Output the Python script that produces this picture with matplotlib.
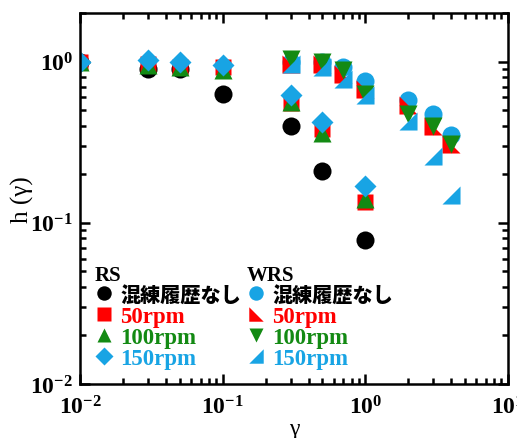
import numpy as np
import matplotlib
matplotlib.use('Agg')
import matplotlib.pyplot as plt
from matplotlib.ticker import LogLocator, FixedLocator, FixedFormatter

plt.rcParams['font.family'] = ['Liberation Serif', 'Noto Sans CJK JP']
plt.rcParams['font.weight'] = 'bold'
plt.rcParams['mathtext.fontset'] = 'custom'
plt.rcParams['mathtext.rm'] = 'Liberation Serif:bold'
plt.rcParams['mathtext.default'] = 'rm'

# データ (RS)
x_rs = [0.01, 0.03, 0.05, 0.1, 0.3, 0.5, 1.0]
rs_none = [1.0, 0.90, 0.90, 0.63, 0.40, 0.21, 0.078]
rs_50 = [1.0, 0.97, 0.92, 0.93, 0.55, 0.38, 0.135]
rs_100 = [1.0, 0.95, 0.92, 0.88, 0.56, 0.36, 0.14]
rs_150 = [1.0, 1.02, 1.0, 0.95, 0.62, 0.42, 0.17]

# データ (WRS)
x_wrs = [0.3, 0.5, 0.7, 1.0, 2.0, 3.0, 4.0]
wrs_none = [1.0, 1.0, 0.92, 0.76, 0.58, 0.47, 0.35]
wrs_50 = [0.97, 0.96, 0.84, 0.68, 0.54, 0.40, 0.31]
wrs_100 = [1.03, 0.99, 0.89, 0.63, 0.47, 0.40, 0.31]
wrs_150 = [0.97, 0.93, 0.78, 0.62, 0.43, 0.26, 0.148]

labels = ['混練履歴なし', '50rpm', '100rpm', '150rpm']
text_colors = ['black', '#ff0000', '#138a13', '#18a4e4']
rs_colors = ['black', '#ff0000', '#138a13', '#18a4e4']
wrs_colors = ['#18a4e4', '#ff0000', '#138a13', '#18a4e4']

tri_50 = [(-1, 1), (-1, -1), (1, -1), (-1, 1)]
tri_150 = [(-1, -1), (1, -1), (1, 1), (-1, -1)]

fig = plt.figure(figsize=(5.17, 4.39), dpi=100)
ax = fig.add_axes([80/517, 1-385/439, 428/517, 371/439])

h_rs = []
for y, m, ms, c in zip([rs_none, rs_50, rs_100, rs_150], ['o', 's', '^', 'D'],
                       [13, 12, 13, 11], rs_colors):
    l, = ax.plot(x_rs, y, ls='none', marker=m, ms=ms, color=c, mec='none')
    h_rs.append(l)

h_wrs = []
for y, m, ms, c in zip([wrs_none, wrs_50, wrs_100, wrs_150], ['o', tri_50, 'v', tri_150],
                       [13, 13, 13, 13], wrs_colors):
    l, = ax.plot(x_wrs, y, ls='none', marker=m, ms=ms, color=c, mec='none')
    h_wrs.append(l)

ax.set_xscale('log')
ax.set_yscale('log')
ax.set_xlim(0.01, 10)
ax.set_ylim(0.01, 2)

ax.xaxis.set_major_locator(FixedLocator([0.01, 0.1, 1, 10]))
ax.xaxis.set_major_formatter(FixedFormatter(['$10^{-2}$', '$10^{-1}$', '$10^{0}$', '$10^{1}$']))
ax.yaxis.set_major_locator(FixedLocator([0.01, 0.1, 1]))
ax.yaxis.set_major_formatter(FixedFormatter(['$10^{-2}$', '$10^{-1}$', '$10^{0}$']))
ax.xaxis.set_minor_locator(LogLocator(subs=np.arange(2, 10)))
ax.yaxis.set_minor_locator(LogLocator(subs=np.arange(2, 10)))
ax.tick_params(which='both', direction='in', top=True, right=True, width=1.8, labelsize=17)
ax.tick_params(which='major', length=7)
ax.tick_params(axis='x', which='major', pad=8)
ax.tick_params(axis='y', which='major', pad=5)
ax.tick_params(which='minor', length=4)
for s in ax.spines.values():
    s.set_linewidth(1.8)

ax.set_xlabel('γ', fontsize=17, labelpad=0)
ax.set_ylabel('h (γ)', fontsize=18, labelpad=-3)

kw = dict(loc='upper left', frameon=False, fontsize=16.5, markerscale=0.8,
          handlelength=0.8, handletextpad=0.3, labelspacing=0.0, borderpad=0,
          borderaxespad=0, alignment='left',
          title_fontproperties={'family': 'Liberation Serif', 'weight': 'bold', 'size': 15})
leg1 = ax.legend(h_rs, labels, title='RS', labelcolor=text_colors,
                 bbox_to_anchor=(0.035, 0.32), **kw)
ax.add_artist(leg1)
leg2 = ax.legend(h_wrs, labels, title='WRS', labelcolor=text_colors,
                 bbox_to_anchor=(0.39, 0.32), **kw)
for lg in (leg1, leg2):
    lg._legend_box.sep = 0
    lg.get_texts()[0].set_fontsize(14.5)
    lg.get_texts()[0].set_fontweight('heavy')

fig.savefig('out.png', dpi=100)
